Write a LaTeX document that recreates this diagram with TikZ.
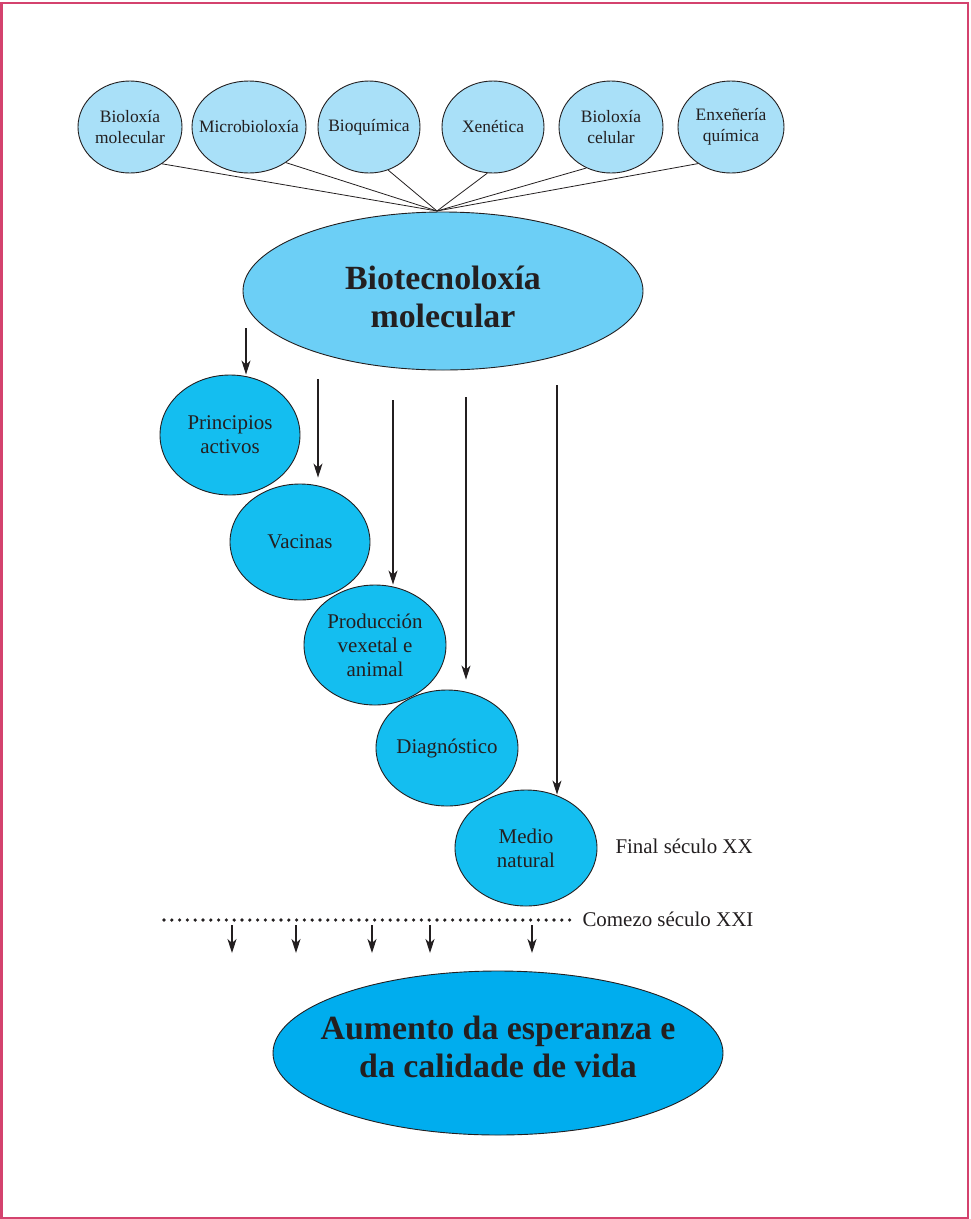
\documentclass[tikz,border=0pt]{standalone}
\usepackage{fontspec}
\setmainfont{Liberation Serif}
\usetikzlibrary{arrows.meta,shapes.geometric}
\definecolor{framered}{HTML}{D4426E}
\definecolor{paleblue}{HTML}{A9E0F8}
\definecolor{skyblue}{HTML}{6CCFF6}
\definecolor{cyanblue}{HTML}{14BEF0}
\definecolor{deepblue}{HTML}{00ADEE}
\definecolor{inkgray}{HTML}{231F20}
\tikzset{
  blob/.style={ellipse,draw=inkgray,line width=0.9bp,inner sep=0pt},
  blobtext/.style={align=center,text=inkgray,inner sep=0pt},
  field/.style={blob,fill=paleblue,minimum height=92bp},
  fieldtext/.style={blobtext,font=\fontsize{17.5}{21}\selectfont},
  use/.style={blob,fill=cyanblue},
  usetext/.style={blobtext,font=\fontsize{21}{24}\selectfont},
  downarrow/.style={line width=1.1bp,draw=inkgray,-{Stealth[length=14bp,width=9bp,inset=4bp]}}
}
\begin{document}
\begin{tikzpicture}[x=1bp,y=-1bp]
\useasboundingbox (0,0) rectangle (971,1219);
\draw[framered,line width=2bp] (1.5,3) rectangle (967.5,1217.5);
\pgfmathsetmacro{\yf}{127}
% disciplinas
\node[field,minimum width=104bp,label={[fieldtext]center:Bioloxía\\molecular}] (bm) at (130,\yf) {};
\node[field,minimum width=114bp,label={[fieldtext]center:Microbioloxía}] (mb) at (249,\yf) {};
\node[field,minimum width=102bp,label={[fieldtext]center:Bioquímica}] (bq) at (369,\yf) {};
\node[field,minimum width=102bp,label={[fieldtext]center:Xenética}] (xe) at (493,\yf) {};
\node[field,minimum width=104bp,label={[fieldtext]center:Bioloxía\\celular}] (bc) at (611,\yf) {};
\node[field,minimum width=106bp,label={[fieldtext]center:Enxeñería\\química}] (eq) at (731,\yf) {};
% biotecnoloxia
\node[blob,fill=skyblue,minimum width=400bp,minimum height=158bp,
  label={[blobtext,yshift=-6bp,font=\bfseries\fontsize{34}{39}\selectfont]center:Biotecnoloxía\\molecular}] (bt) at (443,291) {};
\coordinate (conv) at (437,211);
\foreach \n/\a in {bm/-49,mb/-44,bq/-66,xe/-97,bc/-121,eq/-132}
  \draw[inkgray,line width=0.8bp] (\n.\a) -- (conv);
% aplicacions
\node[use,minimum width=140bp,minimum height=120bp,label={[usetext]center:Principios\\activos}] (pa) at (230,435) {};
\node[use,minimum width=140bp,minimum height=116bp,label={[usetext]center:Vacinas}] (va) at (300,542) {};
\node[use,minimum width=142bp,minimum height=120bp,label={[usetext]center:Producción\\vexetal e\\animal}] (pv) at (375,645) {};
\node[use,minimum width=142bp,minimum height=116bp,label={[usetext]center:Diagnóstico}] (di) at (447,748) {};
\node[use,minimum width=142bp,minimum height=116bp,label={[usetext]center:Medio\\natural}] (mn) at (526,848) {};
\coordinate (s1) at (246,328);
\coordinate (s2) at (318,379);
\coordinate (s3) at (393,400);
\coordinate (s4) at (466,397);
\coordinate (s5) at (557,385);
\draw[downarrow] (s1) -- (s1 |- pa.north);
\draw[downarrow,shorten >=6bp] (s2) -- (s2 |- va.north);
\draw[downarrow] (s3) -- (s3 |- pv.north);
\draw[downarrow,shorten >=10bp] (s4) -- (s4 |- di.north);
\draw[downarrow,shorten >=-5bp] (s5) -- (s5 |- mn.north);
\node[anchor=west,text=inkgray,font=\fontsize{21}{24}\selectfont] (fx) at (612,846) {Final século XX};
% liña do seculo
\coordinate (d0) at (164,920);
\coordinate (d1) at (572,920);
\draw[inkgray,line width=3.6bp,line cap=round,dash pattern=on 0bp off 7.8bp] (d0) -- (d1);
\node[anchor=west,text=inkgray,font=\fontsize{21}{24}\selectfont] (cx) at (579,919) {Comezo século XXI};
\foreach \x in {232,296,372,430,532}{
  \coordinate (u\x) at (\x,925);
  \coordinate (v\x) at (\x,953);
  \draw[downarrow] (u\x) -- (v\x);
}
% resultado
\node[blob,fill=deepblue,minimum width=450bp,minimum height=164bp,
  label={[blobtext,yshift=6bp,font=\bfseries\fontsize{34}{38}\selectfont]center:Aumento da esperanza e\\da calidade de vida}] (ae) at (498,1053) {};
\end{tikzpicture}
\end{document}
